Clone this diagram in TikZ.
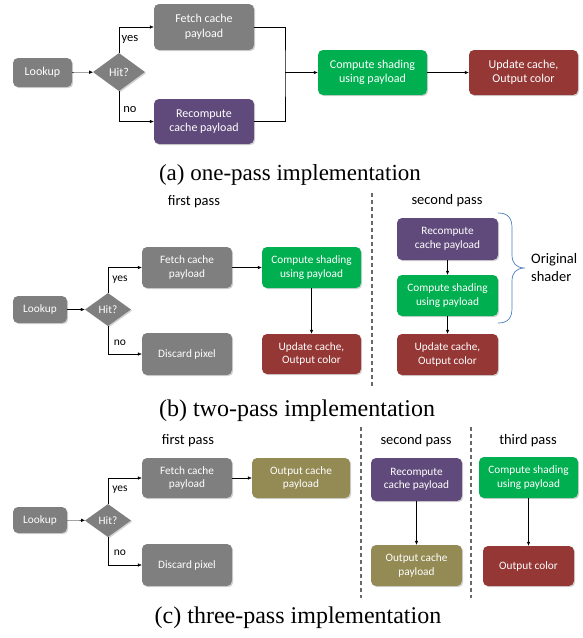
\documentclass[tikz,border=0pt]{standalone}
\usepackage{fontspec}
\setmainfont{Liberation Serif}
\newfontfamily\calfont{Carlito}
\usetikzlibrary{shapes.geometric,arrows.meta,shadows}

\definecolor{boxgray}{RGB}{127,127,127}
\definecolor{boxpurple}{RGB}{96,74,123}
\definecolor{boxgreen}{RGB}{0,176,80}
\definecolor{boxred}{RGB}{149,55,53}
\definecolor{boxolive}{RGB}{148,138,84}
\definecolor{bracecol}{RGB}{74,126,187}
\definecolor{sepgray}{RGB}{105,105,105}

\tikzset{
  blk/.style={rounded corners=5pt, text=white, align=center, inner sep=0pt,
    font=\calfont\fontsize{12}{14.5}\selectfont,
    drop shadow={shadow xshift=1.2pt, shadow yshift=-1.2pt, opacity=0.35}},
  blksm/.style={blk, font=\calfont\fontsize{11.3}{13.5}\selectfont},
  hitbox/.style={diamond, fill=boxgray, text=white, inner sep=0pt,
    drop shadow={shadow xshift=1.2pt, shadow yshift=-1.2pt, opacity=0.35}},
  arr/.style={-{Latex[length=4pt,width=3.5pt]}},
  lbl/.style={font=\calfont\fontsize{12.5}{14}\selectfont},
  lblsm/.style={font=\calfont\fontsize{11.5}{13}\selectfont},
  passlbl/.style={font=\calfont\fontsize{14.5}{17}\selectfont},
  capt/.style={font=\fontsize{23}{26}\selectfont},
  captbig/.style={font=\fontsize{24}{27}\selectfont},
  sep/.style={sepgray, line width=1.1pt, dash pattern=on 4pt off 3pt}
}

\begin{document}
\begin{tikzpicture}[x=1pt,y=1pt,yscale=-1,xscale=1]
\useasboundingbox (0,0) rectangle (583,638);

%%% (a) one-pass
% Boxes
\node [blk, fill=boxgray, minimum width=59, minimum height=29] (lookA) at (42.5,72.5) {Lookup};
\node [hitbox, minimum width=52, minimum height=38, font=\calfont\fontsize{12}{14}\selectfont] (hitA) at (119,72) {Hit?};
\node [blk, fill=boxgray, minimum width=100, minimum height=46] (fetchA) at (204,27) {Fetch cache\\payload};
\node [blk, fill=boxpurple, minimum width=100, minimum height=45] (recompA) at (204,121.5) {Recompute\\cache payload};
\node [blk, fill=boxgreen, minimum width=109, minimum height=45] (compA) at (372.5,72.5) {Compute shading\\using payload};
\node [blk, fill=boxred, minimum width=109, minimum height=45] (updA) at (523.5,72.5) {Update cache,\\Output color};
\coordinate (jnA) at (285,72.5);

% Lines
\draw [arr] (lookA) -- (hitA);
\draw [arr] (hitA.north) |- (fetchA.west);
\draw [arr] (hitA.south) |- (recompA.west);
\draw (fetchA.east) -| (jnA) |- (recompA.east);
\draw [arr] (jnA) -- (compA);
\draw [arr] (compA) -- (updA);

% Text Node
\node [lbl] (yesA) at (130,39) {yes};
% Text Node
\node [lbl] (noA) at (130,110) {no};
% Text Node
\node [capt] (captA) at (290,175) {(a) one-pass implementation};

%%% (b) two-pass
% Boxes
\node [blksm, fill=boxgray, minimum width=54, minimum height=27] (lookB) at (40,309.5) {Lookup};
\node [hitbox, minimum width=46, minimum height=33, font=\calfont\fontsize{11.3}{13}\selectfont] (hitB) at (108,309.5) {Hit?};
\node [blksm, fill=boxgray, minimum width=90, minimum height=41] (fetchB) at (187,267.5) {Fetch cache\\payload};
\node [blksm, fill=boxgray, minimum width=90, minimum height=42] (discB) at (187,354) {Discard pixel};
\node [blksm, fill=boxgreen, minimum width=99, minimum height=41] (compB) at (311.5,267.5) {Compute shading\\using payload};
\node [blksm, fill=boxred, minimum width=99, minimum height=40] (updB) at (311.5,354) {Update cache,\\Output color};
\node [blksm, fill=boxpurple, minimum width=101, minimum height=42] (recompB) at (447.5,239) {Recompute\\cache payload};
\node [blksm, fill=boxgreen, minimum width=101, minimum height=41] (compB2) at (447.5,295.5) {Compute shading\\using payload};
\node [blksm, fill=boxred, minimum width=101, minimum height=41] (updB2) at (447.5,354.5) {Update cache,\\Output color};

% Lines
\draw [arr] (lookB) -- (hitB);
\draw [arr] (hitB.north) |- (fetchB.west);
\draw [arr] (hitB.south) |- (discB.west);
\draw [arr] (fetchB) -- (compB);
\draw [arr] (compB) -- (updB);
\draw [arr] (recompB) -- (compB2);
\draw [arr] (compB2) -- (updB2);
\draw [sep] (372,193) -- (372,388);

%Curve Lines
\draw [bracecol, line width=0.7pt] (498,213) .. controls (508,213) and (512,218) .. (512,228) -- (512,255) .. controls (512,263) and (516,268) .. (525,268) .. controls (516,268) and (512,273) .. (512,281) -- (512,308) .. controls (512,318) and (508,323) .. (498,323);

% Text Node
\node [lblsm] (yesB) at (120,280) {yes};
% Text Node
\node [lblsm] (noB) at (120,343) {no};
% Text Node
\node [passlbl] (firstB) at (194,202) {first pass};
% Text Node
\node [passlbl] (secondB) at (447,201) {second pass};
% Text Node
\node [passlbl, anchor=west, align=left, inner sep=0pt, font=\calfont\fontsize{14.5}{18}\selectfont] (origB) at (531,268) {Original\\shader};
% Text Node
\node [captbig] (captB) at (297,411) {(b) two-pass implementation};

%%% (c) three-pass
% Boxes
\node [blksm, fill=boxgray, minimum width=54, minimum height=26] (lookC) at (40,520) {Lookup};
\node [hitbox, minimum width=46, minimum height=33, font=\calfont\fontsize{11.3}{13}\selectfont] (hitC) at (108,520.5) {Hit?};
\node [blksm, fill=boxgray, minimum width=90, minimum height=40] (fetchC) at (187,478) {Fetch cache\\payload};
\node [blksm, fill=boxgray, minimum width=90, minimum height=42] (discC) at (187,565) {Discard pixel};
\node [blksm, fill=boxolive, minimum width=98, minimum height=40] (outC) at (301,478) {Output cache\\payload};
\node [blksm, fill=boxpurple, minimum width=91, minimum height=43] (recompC) at (416.5,479.5) {Recompute\\cache payload};
\node [blksm, fill=boxolive, minimum width=91, minimum height=41] (outC2) at (416.5,565.5) {Output cache\\payload};
\node [blksm, fill=boxgreen, minimum width=99, minimum height=41] (compC) at (528.5,477.5) {Compute shading\\using payload};
\node [blksm, fill=boxred, minimum width=91, minimum height=40] (colC) at (528.5,566) {Output color};

% Lines
\draw [arr] (lookC) -- (hitC);
\draw [arr] (hitC.north) |- (fetchC.west);
\draw [arr] (hitC.south) |- (discC.west);
\draw [arr] (fetchC) -- (outC);
\draw [arr] (recompC) -- (outC2);
\draw [arr] (compC) -- (colC);
\draw [sep] (361,427) -- (361,598);
\draw [sep] (471,427) -- (471,598);

% Text Node
\node [lblsm] (yesC) at (120,490) {yes};
% Text Node
\node [lblsm] (noC) at (120,553) {no};
% Text Node
\node [passlbl] (firstC) at (188,441) {first pass};
% Text Node
\node [passlbl] (secondC) at (416,441) {second pass};
% Text Node
\node [passlbl] (thirdC) at (528,441) {third pass};
% Text Node
\node [captbig] (captC) at (298,618) {(c) three-pass implementation};

\end{tikzpicture}
\end{document}
